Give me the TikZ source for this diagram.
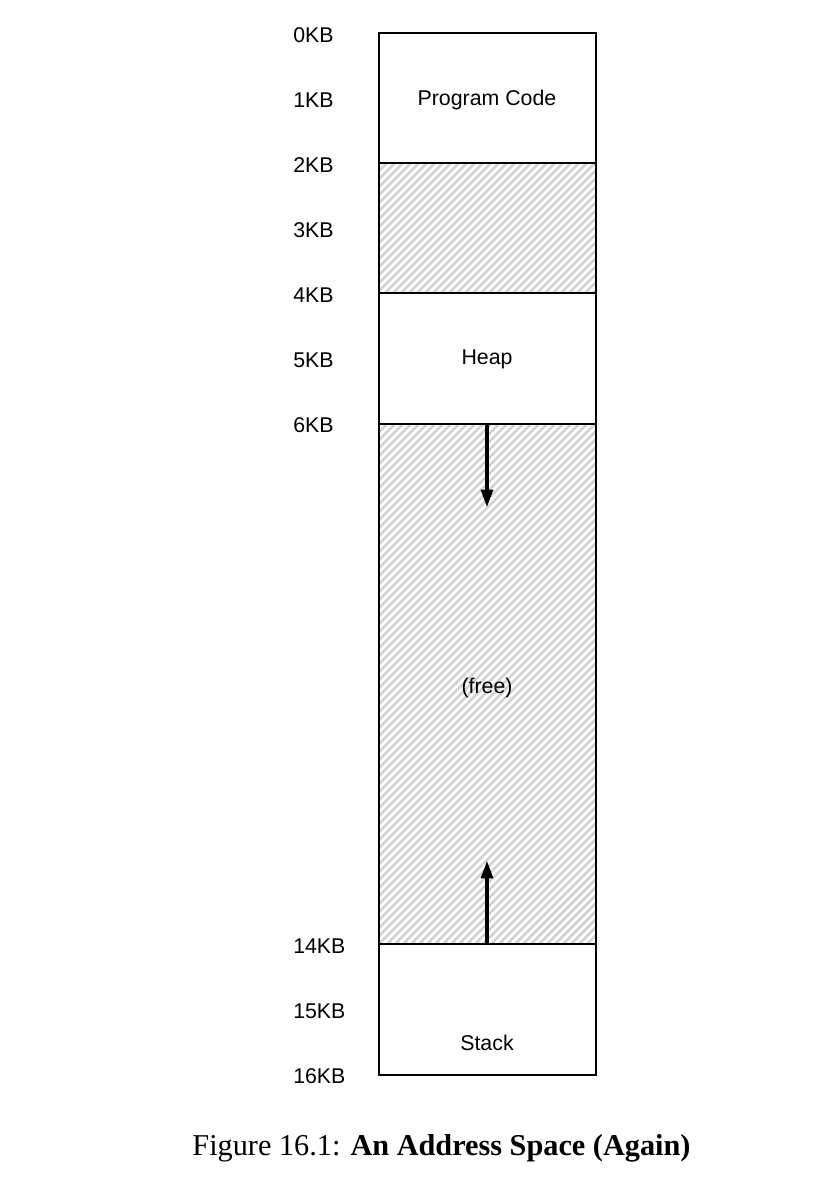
\documentclass[tikz,border=0pt]{standalone}
\usepackage{fontspec}
\setmainfont{Liberation Serif}
\newfontfamily\labelfont{Liberation Sans}
\usetikzlibrary{arrows.meta}
\definecolor{hatchgray}{HTML}{D2D2D2}
\newcommand{\hatchrect}[4]{% x1,y1,x2,y2 in px
  \begin{scope}
    \clip (#1,#2) rectangle (#3,#4);
    \pgfmathsetmacro{\cstart}{#1+#2-8}
    \pgfmathsetmacro{\cnext}{#1+#2}
    \pgfmathsetmacro{\cend}{#3+#4+8}
    \foreach \c in {\cstart,\cnext,...,\cend}{
      \draw[hatchline] ({\c-#2+10},{#2-10}) -- ({\c-#4-10},{#4+10});
    }
  \end{scope}}
\begin{document}
\begin{tikzpicture}[x=0.75pt,y=-0.75pt,
  addr/.style={anchor=west,font=\labelfont\fontsize{16}{19}\selectfont,inner sep=0pt},
  lbl/.style={font=\labelfont\fontsize{16}{19}\selectfont,inner sep=0pt},
  region/.style={draw=black,line width=1.5pt},
  hatchline/.style={draw=hatchgray,line width=2.1pt},
  growarrow/.style={line width=2.3pt,-{Triangle[length=13pt,width=9pt]}}]
\useasboundingbox (0,0) rectangle (834,1184);
% boundaries
\coordinate (k0) at (487,33);
\coordinate (k2) at (487,163);
\coordinate (k4) at (487,293);
\coordinate (k6) at (487,424);
\coordinate (k14) at (487,944);
\coordinate (k16) at (487,1075);
% hatching of unused areas
\hatchrect{379}{163}{596}{293}
\hatchrect{379}{424}{596}{944}
% regions
\draw[region] (379,33) rectangle (596,163);
\draw[region] (379,163) rectangle (596,293);
\draw[region] (379,293) rectangle (596,424);
\draw[region] (379,424) rectangle (596,944);
\draw[region] (379,944) rectangle (596,1075);
% region labels
\node[lbl] (code) at (487,100) {Program Code};
\node[lbl] (heap) at (487,359) {Heap};
\node[lbl] (free) at (487,688) {(free)};
\node[lbl] (stack) at (487,1043) {Stack};
% growth arrows
\coordinate (heaptip) at (487,507);
\coordinate (stacktip) at (487,861);
\draw[growarrow] (k6) -- (heaptip);
\draw[growarrow] (k14) -- (stacktip);
% address labels
\node[addr] (a0) at (293,35) {0KB};
\node[addr] (a1) at (293,100) {1KB};
\node[addr] (a2) at (293,165) {2KB};
\node[addr] (a3) at (293,230) {3KB};
\node[addr] (a4) at (293,295) {4KB};
\node[addr] (a5) at (293,360) {5KB};
\node[addr] (a6) at (293,425) {6KB};
\node[addr] (a14) at (293,946) {14KB};
\node[addr] (a15) at (293,1011) {15KB};
\node[addr] (a16) at (293,1076) {16KB};
% caption
\node[inner sep=0pt,font=\fontsize{22.7}{27}\selectfont] (cap) at (441.5,1148) {Figure 16.1: \textbf{An Address Space (Again)}};
\end{tikzpicture}
\end{document}
